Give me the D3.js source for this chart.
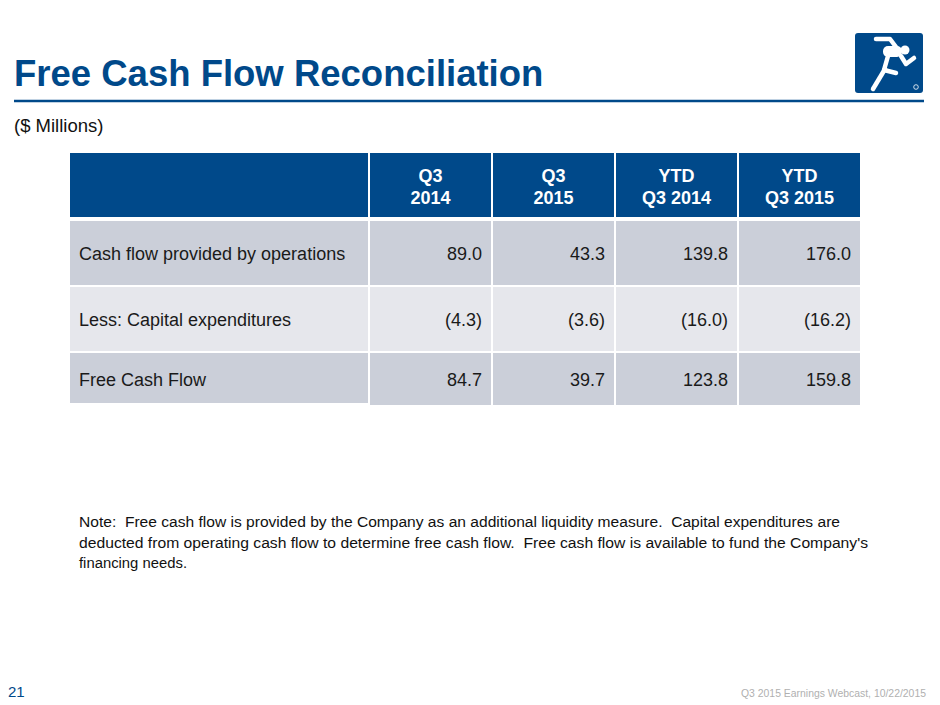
<!DOCTYPE html>
<html>
<head>
<meta charset="utf-8">
<script src="https://cdn.jsdelivr.net/npm/d3@7"></script>
<style>
  body { margin: 0; background: #fff; }
  svg { display: block; font-family: "Liberation Sans", Arial, sans-serif; }
  .note { white-space: pre; }
</style>
</head>
<body>
<svg id="chart" width="940" height="705"></svg>
<script>
const columnHeads = [["Q3", "2014"], ["Q3", "2015"], ["YTD", "Q3 2014"], ["YTD", "Q3 2015"]];
const rowLabels = ["Cash flow provided by operations", "Less: Capital expenditures", "Free Cash Flow"];
const q3_2014 = [89.0, -4.3, 84.7];
const q3_2015 = [43.3, -3.6, 39.7];
const ytd_2014 = [139.8, -16.0, 123.8];
const ytd_2015 = [176.0, -16.2, 159.8];
const noteLines = [
  "Note:  Free cash flow is provided by the Company as an additional liquidity measure.  Capital expenditures are",
  "deducted from operating cash flow to determine free cash flow.  Free cash flow is available to fund the Company's",
  "financing needs."
];

const series = [q3_2014, q3_2015, ytd_2014, ytd_2015];
const blue = "#00498a";
const svg = d3.select("#chart");

// title block
svg.append("text")
  .attr("x", 14).attr("y", 86)
  .attr("font-size", 36.5).attr("font-weight", "bold")
  .attr("fill", blue)
  .text("Free Cash Flow Reconciliation");

svg.append("line")
  .attr("x1", 14).attr("x2", 924)
  .attr("y1", 101).attr("y2", 101)
  .attr("stroke", blue).attr("stroke-width", 2.5);

svg.append("text")
  .attr("x", 14).attr("y", 132)
  .attr("font-size", 18.5).attr("fill", "#111")
  .text("($ Millions)");

// logo (rough runner mark)
const logo = svg.append("g").attr("transform", "translate(855,33)");
logo.append("rect").attr("width", 68).attr("height", 60).attr("rx", 3).attr("fill", blue);
logo.append("circle").attr("cx", 50).attr("cy", 17).attr("r", 4.5).attr("fill", "#fff");
logo.append("rect").attr("x", 28).attr("y", 13).attr("width", 19).attr("height", 11)
  .attr("rx", 5).attr("fill", "#fff");
const runner = [
  "M21,6 L35,6 L41,14",       // upper arm
  "M46,23 L51,31 L59,25",     // front arm
  "M33,23 L29,37 L41,40",     // bent leg
  "M30,36 L18,56"             // back leg
];
logo.selectAll("path.limb").data(runner).join("path")
  .attr("class", "limb")
  .attr("d", d => d)
  .attr("fill", "none").attr("stroke", "#fff")
  .attr("stroke-width", 4.5).attr("stroke-linecap", "round").attr("stroke-linejoin", "round");
logo.append("circle").attr("cx", 61).attr("cy", 54).attr("r", 2.3)
  .attr("fill", "none").attr("stroke", "#fff").attr("stroke-width", 0.8);

// table
const tableLeft = 70, labelRight = 370, tableRight = 862;
const headTop = 153, headH = 64, gap = 2;
const rowHeights = [64, 64, 52];

const x = d3.scaleBand()
  .domain(d3.range(columnHeads.length))
  .range([labelRight, tableRight]);

const rowTops = [];
let yy = headTop + headH + 4;
rowHeights.forEach(h => { rowTops.push(yy); yy += h + gap; });

// header
svg.append("rect")
  .attr("x", tableLeft).attr("y", headTop)
  .attr("width", labelRight - tableLeft - gap).attr("height", headH)
  .attr("fill", blue);

const head = svg.selectAll("g.head").data(columnHeads).join("g").attr("class", "head");
head.append("rect")
  .attr("x", (d, i) => x(i))
  .attr("y", headTop)
  .attr("width", x.bandwidth() - gap)
  .attr("height", headH)
  .attr("fill", blue);
head.each(function (d, i) {
  d3.select(this).selectAll("text").data(d).join("text")
    .attr("x", x(i) + (x.bandwidth() - gap) / 2)
    .attr("y", (t, j) => headTop + 29 + j * 22)
    .attr("text-anchor", "middle")
    .attr("font-size", 18).attr("font-weight", "bold")
    .attr("fill", "#fff")
    .text(t => t);
});

const fmt = v => v < 0 ? "(" + d3.format(".1f")(-v) + ")" : d3.format(".1f")(v);
const rowFill = ["#cbcfd9", "#e6e7ec", "#cbcfd9"];

rowLabels.forEach((label, r) => {
  const top = rowTops[r], h = rowHeights[r];
  const base = top + h / 2 + 6.5;
  svg.append("rect")
    .attr("x", tableLeft).attr("y", top)
    .attr("width", labelRight - tableLeft - gap).attr("height", h - (r === 2 ? 2 : 0))
    .attr("fill", rowFill[r]);
  svg.append("text")
    .attr("x", 79).attr("y", base)
    .attr("font-size", 18).attr("fill", "#1a1a1a")
    .text(label);
  series.forEach((vals, c) => {
    svg.append("rect")
      .attr("x", x(c)).attr("y", top)
      .attr("width", x.bandwidth() - gap).attr("height", h)
      .attr("fill", rowFill[r]);
    svg.append("text")
      .attr("x", x(c) + x.bandwidth() - gap - 9)
      .attr("y", base)
      .attr("text-anchor", "end")
      .attr("font-size", 18).attr("fill", "#1a1a1a")
      .text(fmt(vals[r]));
  });
});

// note
svg.selectAll("text.note").data(noteLines).join("text")
  .attr("class", "note")
  .attr("x", 79)
  .attr("y", (d, i) => 527 + i * 20.5)
  .attr("font-size", 15.5).attr("fill", "#111")
  .attr("textLength", (d, i) => [761, 789, 108][i])
  .attr("lengthAdjust", "spacingAndGlyphs")
  .text(d => d);

// footer
svg.append("text")
  .attr("x", 8).attr("y", 697)
  .attr("font-size", 15).attr("fill", blue)
  .text("21");
svg.append("text")
  .attr("x", 926).attr("y", 697)
  .attr("text-anchor", "end")
  .attr("font-size", 11).attr("fill", "#b0b0b0")
  .attr("textLength", 185).attr("lengthAdjust", "spacingAndGlyphs")
  .text("Q3 2015 Earnings Webcast, 10/22/2015");
</script>
</body>
</html>
